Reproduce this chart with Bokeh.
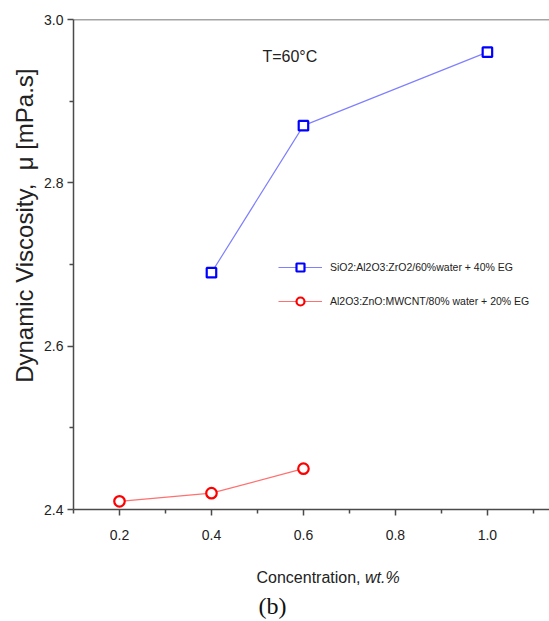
from bokeh.plotting import figure
from bokeh.layouts import column
from bokeh.models import (Range1d, FixedTicker, PrintfTickFormatter, Span, Label, Legend,
                          LegendItem, Title)
from bokeh.embed import file_html
from bokeh.resources import INLINE

# Data
x_sio2 = [0.4, 0.6, 1.0]
y_sio2 = [2.69, 2.87, 2.96]
x_al = [0.2, 0.4, 0.6]
y_al = [2.41, 2.42, 2.45]
label_sio2 = "SiO2:Al2O3:ZrO2/60%water + 40% EG"
label_al = "Al2O3:ZnO:MWCNT/80% water + 20% EG"
x_major = [0.2, 0.4, 0.6, 0.8, 1.0]
x_minor = [0.1, 0.3, 0.5, 0.7, 0.9, 1.1]
y_major = [2.4, 2.6, 2.8, 3.0]
y_minor = [2.5, 2.7, 2.9]

FONT = "Liberation Sans"
AX = "#4a4a4a"
TXT = "#222222"

p = figure(width=549, height=560, output_backend="svg", toolbar_location=None,
           x_range=Range1d(0.1, 1.135), y_range=Range1d(2.4, 3.0),
           min_border_left=73, min_border_right=0, min_border_top=19, min_border_bottom=51)
p.outline_line_color = None
p.xgrid.visible = False
p.ygrid.visible = False
p.background_fill_color = "white"
p.border_fill_color = "white"

for ax in (p.xaxis[0], p.yaxis[0]):
    ax.axis_line_color = AX
    ax.axis_line_width = 1.5
    ax.major_tick_line_color = AX
    ax.minor_tick_line_color = AX
    ax.major_tick_line_width = 1.5
    ax.minor_tick_line_width = 1.5
    ax.major_tick_out = 6
    ax.major_tick_in = 0
    ax.minor_tick_out = 4
    ax.minor_tick_in = 0
    ax.major_label_text_font = FONT
    ax.major_label_text_font_size = "14px"
    ax.major_label_text_color = TXT
    ax.formatter = PrintfTickFormatter(format="%.1f")

p.xaxis[0].ticker = FixedTicker(ticks=x_major, minor_ticks=x_minor)
p.yaxis[0].ticker = FixedTicker(ticks=y_major, minor_ticks=y_minor)
p.xaxis[0].major_label_standoff = 14
p.yaxis[0].major_label_standoff = 4

ylab = Title(text="Dynamic Viscosity,\u00a0\u00a0\u03bc [mPa.s]", align="right", offset=49,
             standoff=7, text_font=FONT, text_font_size="24px", text_font_style="normal",
             text_color=TXT)
p.add_layout(ylab, "left")

p.add_layout(Span(location=3.0, dimension="width", line_color=AX, line_width=1.5))

l1 = p.line(x_sio2, y_sio2, line_color="#8080ff", line_width=1.2)
s1 = p.scatter(x_sio2, y_sio2, marker="square", size=9.5, line_color="#0000ff",
               line_width=2.2, fill_color="white")
l2 = p.line(x_al, y_al, line_color="#ff7070", line_width=1.2)
s2 = p.scatter(x_al, y_al, marker="circle", size=10.5, line_color="#ff0000",
               line_width=2.2, fill_color="white")

legend = Legend(items=[LegendItem(label=label_sio2, renderers=[l1, s1]),
                       LegendItem(label=label_al, renderers=[l2, s2])],
                location=(205, 198), padding=0, margin=0, spacing=14,
                glyph_width=44, glyph_height=20, label_height=20, label_standoff=8,
                border_line_color=None, background_fill_alpha=0,
                label_text_font=FONT, label_text_font_size="10.5px",
                label_text_color=TXT)
p.add_layout(legend)

p.add_layout(Label(x=0.5107, y=2.9547, text="T=60\u00b0C", text_font=FONT,
                   text_font_size="16px", text_baseline="middle", text_align="left",
                   text_color=TXT))

# bottom caption area (frame aligned with main plot: x in page pixels)
p2 = figure(width=549, height=61, output_backend="svg", toolbar_location=None,
            x_range=Range1d(73, 549), y_range=Range1d(0, 61),
            x_axis_type=None, y_axis_type=None, min_border=0)
p2.outline_line_color = None
p2.xgrid.visible = False
p2.ygrid.visible = False
p2.add_layout(Label(x=256, y=44, text="Concentration, ", text_font=FONT,
                    text_font_size="16px", text_baseline="middle", text_align="left",
                    text_color=TXT))
p2.add_layout(Label(x=256, y=44, x_offset=108.5, text="wt.%", text_font=FONT,
                    text_font_size="16px", text_font_style="italic",
                    text_baseline="middle", text_align="left", text_color=TXT))
p2.add_layout(Label(x=258, y=16, text="(b)", text_font="Liberation Serif",
                    text_font_size="24px", text_baseline="middle", text_align="left",
                    text_color="#111111"))

layout = column(p, p2, spacing=0)
open("out.html", "w").write(file_html(layout, INLINE))
